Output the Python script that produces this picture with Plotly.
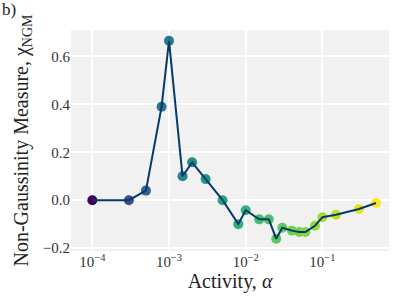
import numpy as np
import plotly.graph_objects as go
from plotly.colors import sample_colorscale

activity = [1e-4, 3e-4, 5e-4, 8e-4, 1e-3, 1.5e-3, 2e-3, 3e-3, 5e-3, 8e-3, 1e-2,
            1.5e-2, 2e-2, 2.5e-2, 3e-2, 4e-2, 5e-2, 6e-2, 8e-2, 0.1, 0.15, 0.3, 0.5]
ngm = [0.0, 0.0, 0.04, 0.39, 0.665, 0.10, 0.158, 0.088, 0.0, -0.10, -0.042,
       -0.08, -0.08, -0.161, -0.115, -0.127, -0.133, -0.133, -0.107, -0.071, -0.061, -0.037, -0.012]

xtick_vals = [1e-4, 1e-3, 1e-2, 1e-1]
xtick_text = ["10<sup>−4</sup>", "10<sup>−3</sup>", "10<sup>−2</sup>", "10<sup>−1</sup>"]
ytick_vals = [-0.2, 0.0, 0.2, 0.4, 0.6]
ytick_text = ["−0.2", "0.0", "0.2", "0.4", "0.6"]

logx = np.log10(activity)
t = (logx - logx.min()) / (logx.max() - logx.min())
colors = sample_colorscale("Viridis", list(t ** 0.7))

font = "Liberation Serif"

fig = go.Figure()
fig.add_trace(go.Scatter(
    x=activity, y=ngm, mode="markers",
    marker=dict(size=10, color=colors, line=dict(width=0)),
    showlegend=False, hoverinfo="skip"))
fig.add_trace(go.Scatter(
    x=activity, y=ngm, mode="lines",
    line=dict(color="#053a68", width=2),
    showlegend=False))

fig.update_layout(
    width=407, height=305,
    margin=dict(l=71, r=18, t=30, b=54),
    paper_bgcolor="white", plot_bgcolor="#f1f1f1",
    font=dict(family=font, color="#333333", size=15),
    annotations=[dict(text="b)", x=0, y=1, xref="paper", yref="paper",
                      xanchor="left", yanchor="top", showarrow=False,
                      font=dict(size=17, family=font, color="#222222"),
                      xshift=-71, yshift=32)],
)
fig.update_xaxes(type="log", range=[-4.278, -0.132],
                 tickvals=xtick_vals, ticktext=xtick_text,
                 showgrid=True, gridcolor="white", gridwidth=1.5,
                 zeroline=False, showline=False, ticks="", automargin=False,
                 tickfont=dict(size=15, family=font, color="#333333"),
                 title=dict(text="Activity, <i>α</i>", standoff=4,
                            font=dict(size=20, family=font, color="#222222")))
fig.update_yaxes(range=[-0.212, 0.71],
                 tickvals=ytick_vals, ticktext=ytick_text,
                 showgrid=True, gridcolor="white", gridwidth=1.5,
                 zeroline=False, showline=False, ticks="", automargin=False,
                 tickfont=dict(size=15, family=font, color="#333333"),
                 title=dict(text="Non-Gaussinity Measure, χ<sub>NGM</sub>", standoff=8,
                            font=dict(size=20, family=font, color="#222222")))

fig.write_html("out.html", config={"displayModeBar": False},
               post_script="document.body.style.margin='0';document.body.style.overflow='hidden';")
